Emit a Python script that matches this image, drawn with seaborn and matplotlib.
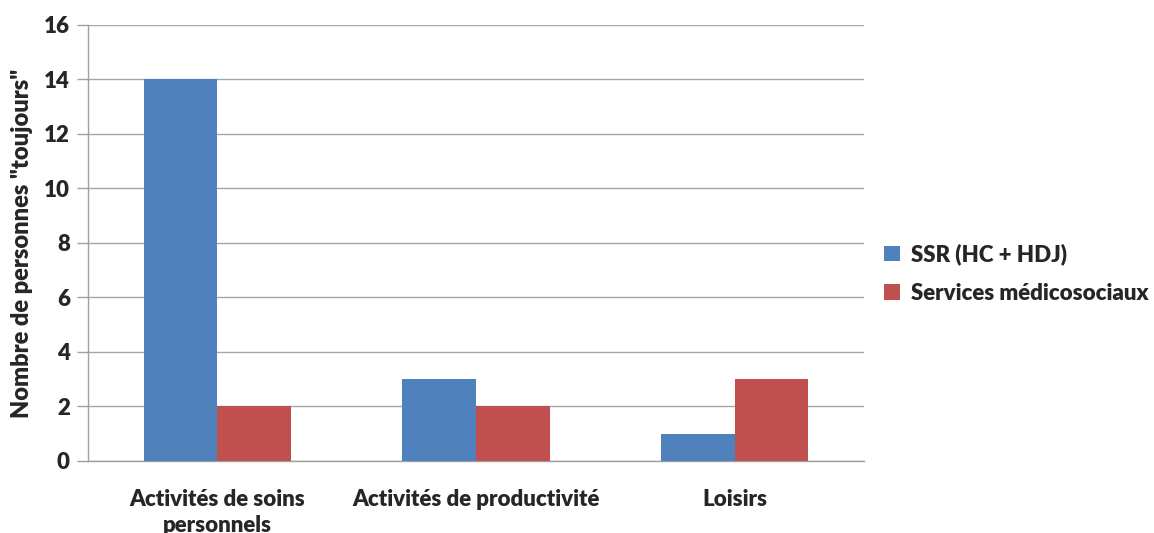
import pandas as pd
import matplotlib.pyplot as plt
import seaborn as sns

categories = ["Activités de soins\npersonnels", "Activités de productivité", "Loisirs"]
ssr_values = [14, 3, 1]
medico_values = [2, 2, 3]
series_names = ["SSR (HC + HDJ)", "Services médicosociaux"]
y_ticks = [0, 2, 4, 6, 8, 10, 12, 14, 16]

df = pd.DataFrame({
    "categorie": categories * 2,
    "valeur": ssr_values + medico_values,
    "serie": [series_names[0]] * 3 + [series_names[1]] * 3,
})

sns.set_style("white")
plt.rcParams["font.family"] = ["Lato", "DejaVu Sans"]
plt.rcParams["font.weight"] = "heavy"

fig = plt.figure(figsize=(11.54, 5.33), dpi=100)
ax = fig.add_axes([0.0763, 0.1351, 0.6724, 0.818])

sns.barplot(
    data=df, x="categorie", y="valeur", hue="serie",
    palette=["#4F81BD", "#C0504D"], width=0.57, saturation=1,
    linewidth=0, ax=ax, zorder=3,
)

fs = 16
ax.set_ylim(0, 16)
ax.set_xlim(-0.5, 2.5)
ax.set_yticks(y_ticks)
ax.set_yticklabels([str(v) for v in y_ticks], fontsize=fs, fontweight="heavy")
ax.set_xticks(range(3))
ax.set_xticklabels(categories, fontsize=fs, fontweight="heavy", va="top", linespacing=1.3)
ax.set_xticks([-0.5, 0.5, 1.5, 2.5], minor=True)
ax.tick_params(axis="x", which="major", length=0, pad=20)
ax.tick_params(axis="x", which="minor", length=8, color="#A0A0A0", width=1)
ax.tick_params(axis="y", length=8, color="#A0A0A0", width=1, pad=5, left=True)

ax.grid(axis="y", color="#A6A6A6", linewidth=1, zorder=0)
ax.set_axisbelow(True)
for s in ["top", "right"]:
    ax.spines[s].set_visible(False)
for s in ["left", "bottom"]:
    ax.spines[s].set_color("#A0A0A0")
    ax.spines[s].set_linewidth(1)

ax.set_xlabel("")
ax.set_ylabel('Nombre de personnes "toujours"', fontsize=17, fontweight="heavy", labelpad=8)

ax.legend(
    loc="center left", bbox_to_anchor=(1.0, 0.43), frameon=False,
    prop={"size": fs, "weight": "heavy"}, handlelength=0.7, handleheight=0.7,
    handletextpad=0.5, labelspacing=0.8,
)

fig.savefig("out.png", dpi=100)
